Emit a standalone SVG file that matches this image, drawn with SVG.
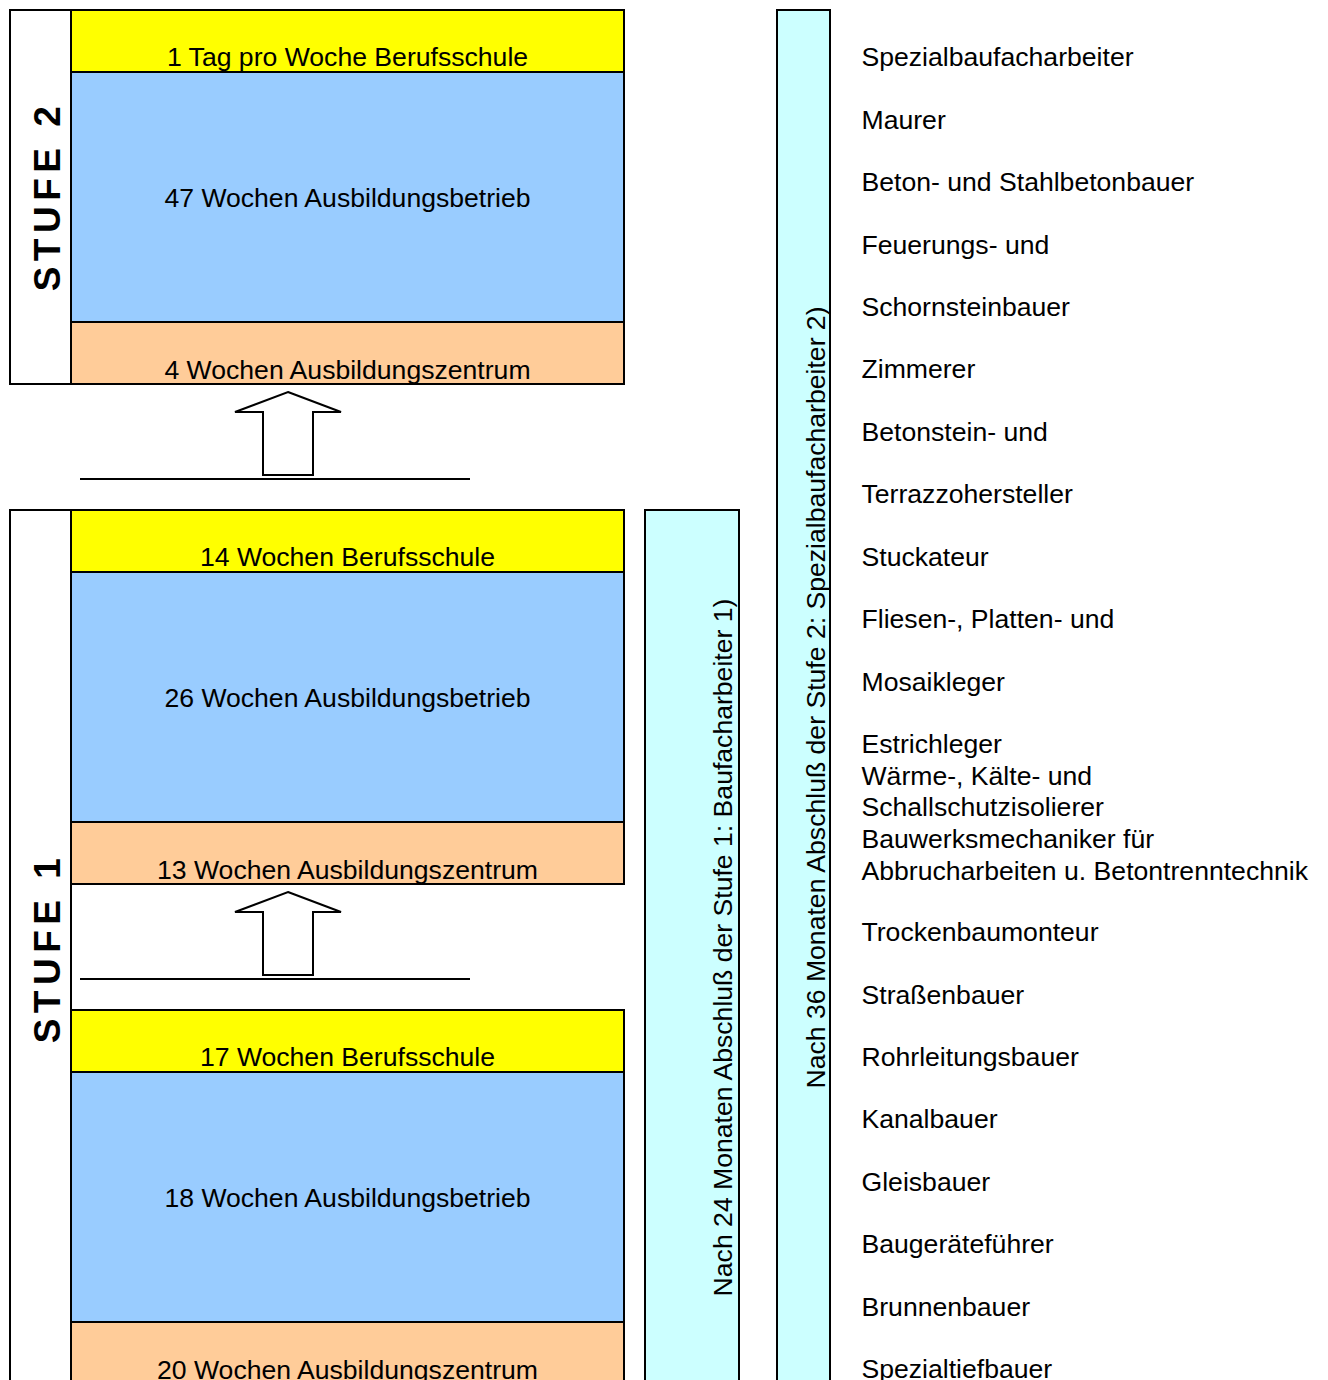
<svg xmlns="http://www.w3.org/2000/svg" width="1328" height="1380" viewBox="0 0 1328 1380">
<style>
.b{stroke:#000;stroke-width:2}
.y{fill:#FFFF00}.bl{fill:#99CCFF}.o{fill:#FFCC99}.c{fill:#CCFFFF}.w{fill:#FFFFFF}
.t{font-family:"Liberation Sans",Arial,sans-serif;font-size:26.6px;fill:#000}
.m{text-anchor:middle}
.s{font-family:"Liberation Sans",Arial,sans-serif;font-size:37px;font-weight:bold;letter-spacing:5.5px;text-anchor:middle;fill:#000}
.ar{fill:#fff;stroke:#000;stroke-width:2;stroke-linejoin:miter}
.ln{stroke:#000;stroke-width:2;fill:none}
</style>
<rect width="1328" height="1380" fill="#fff"/>
<g id="stufe2">
  <rect class="b w" x="10" y="10" width="61" height="374"/>
  <text class="s" transform="translate(60,196) rotate(-90)">STUFE 2</text>
  <g id="s2-schule"><rect class="b y" x="71" y="10" width="553" height="62"/><text class="t m" x="347.5" y="66">1 Tag pro Woche Berufsschule</text></g>
  <g id="s2-betrieb"><rect class="b bl" x="71" y="72" width="553" height="250"/><text class="t m" x="347.5" y="207">47 Wochen Ausbildungsbetrieb</text></g>
  <g id="s2-zentrum"><rect class="b o" x="71" y="322" width="553" height="62"/><text class="t m" x="347.5" y="379">4 Wochen Ausbildungszentrum</text></g>
</g>
<g id="stufe1">
  <rect class="b w" x="10" y="510" width="61" height="890"/>
  <text class="s" transform="translate(60,948) rotate(-90)">STUFE 1</text>
  <g id="s1b-schule"><rect class="b y" x="71" y="510" width="553" height="62"/><text class="t m" x="347.5" y="566">14 Wochen Berufsschule</text></g>
  <g id="s1b-betrieb"><rect class="b bl" x="71" y="572" width="553" height="250"/><text class="t m" x="347.5" y="707">26 Wochen Ausbildungsbetrieb</text></g>
  <g id="s1b-zentrum"><rect class="b o" x="71" y="822" width="553" height="62"/><text class="t m" x="347.5" y="879">13 Wochen Ausbildungszentrum</text></g>
  <g id="s1a-schule"><rect class="b y" x="71" y="1010" width="553" height="62"/><text class="t m" x="347.5" y="1066">17 Wochen Berufsschule</text></g>
  <g id="s1a-betrieb"><rect class="b bl" x="71" y="1072" width="553" height="250"/><text class="t m" x="347.5" y="1207">18 Wochen Ausbildungsbetrieb</text></g>
  <g id="s1a-zentrum"><rect class="b o" x="71" y="1322" width="553" height="80"/><text class="t m" x="347.5" y="1379">20 Wochen Ausbildungszentrum</text></g>
</g>
<g id="connectors">
  <polygon class="ar" points="288,392 341,412 313,412 313,475 263,475 263,412 235,412"/>
  <line class="ln" x1="80" y1="479" x2="470" y2="479"/>
  <polygon class="ar" points="288,892 341,912 313,912 313,975 263,975 263,912 235,912"/>
  <line class="ln" x1="80" y1="979" x2="470" y2="979"/>
</g>
<g id="abschluss1">
  <rect class="b c" x="645" y="510" width="94" height="890"/>
  <text class="t m" transform="translate(732,947.5) rotate(-90)">Nach 24 Monaten Abschluß der Stufe 1: Baufacharbeiter 1)</text>
</g>
<g id="abschluss2">
  <rect class="b c" x="777" y="10" width="53" height="1390"/>
  <text class="t m" transform="translate(825,697.5) rotate(-90)">Nach 36 Monaten Abschluß der Stufe 2: Spezialbaufacharbeiter 2)</text>
</g>
<g id="berufe" class="t">
  <text x="861.5" y="66">Spezialbaufacharbeiter</text>
  <text x="861.5" y="129">Maurer</text>
  <text x="861.5" y="191">Beton- und Stahlbetonbauer</text>
  <text x="861.5" y="254">Feuerungs- und</text>
  <text x="861.5" y="316">Schornsteinbauer</text>
  <text x="861.5" y="378">Zimmerer</text>
  <text x="861.5" y="441">Betonstein- und</text>
  <text x="861.5" y="503">Terrazzohersteller</text>
  <text x="861.5" y="566">Stuckateur</text>
  <text x="861.5" y="628">Fliesen-, Platten- und</text>
  <text x="861.5" y="691">Mosaikleger</text>
  <text x="861.5" y="753">Estrichleger</text>
  <text x="861.5" y="785">Wärme-, Kälte- und</text>
  <text x="861.5" y="816">Schallschutzisolierer</text>
  <text x="861.5" y="848">Bauwerksmechaniker für</text>
  <text x="861.5" y="880">Abbrucharbeiten u. Betontrenntechnik</text>
  <text x="861.5" y="941">Trockenbaumonteur</text>
  <text x="861.5" y="1004">Straßenbauer</text>
  <text x="861.5" y="1066">Rohrleitungsbauer</text>
  <text x="861.5" y="1128">Kanalbauer</text>
  <text x="861.5" y="1191">Gleisbauer</text>
  <text x="861.5" y="1253">Baugeräteführer</text>
  <text x="861.5" y="1316">Brunnenbauer</text>
  <text x="861.5" y="1378">Spezialtiefbauer</text>
</g>
</svg>
